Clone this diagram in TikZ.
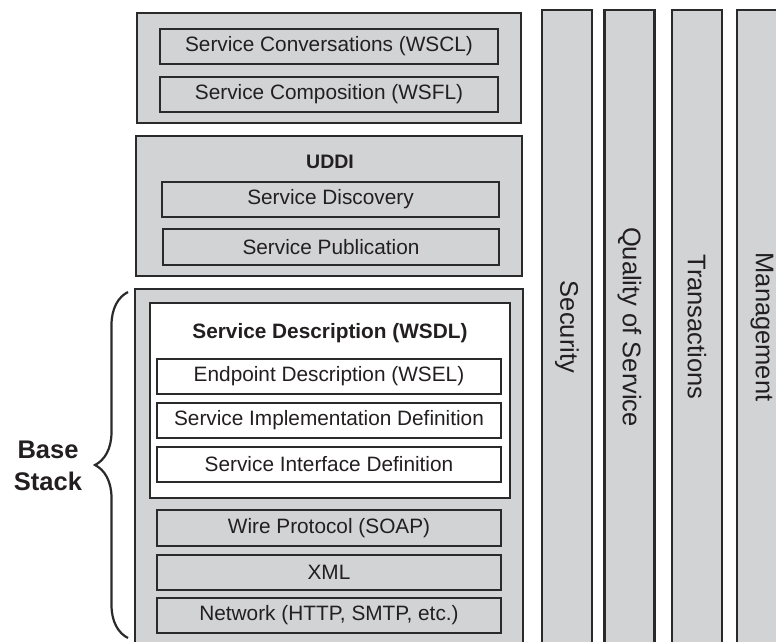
\documentclass[tikz,border=0pt]{standalone}
\usepackage{fontspec}
\setmainfont{Liberation Sans}
\usetikzlibrary{decorations.pathreplacing}
\definecolor{layergray}{HTML}{D1D3D4}
\definecolor{edgegray}{HTML}{2A2A2A}
\definecolor{inkc}{HTML}{231F20}
\begin{document}
\begin{tikzpicture}[x=1pt,y=-1pt,
  every node/.style={text=inkc},
  block/.style={draw=edgegray,fill=layergray,line width=2.4pt,inner sep=0pt},
  layer/.style={block,minimum width=338pt,minimum height=35pt,font=\fontsize{20.8}{24}\selectfont},
  pillar/.style={block,rotate=-90,minimum width=634pt,minimum height=50pt,font=\fontsize{25.5}{30}\selectfont}]
\useasboundingbox (0,0) rectangle (776,641);
\clip (0,0) rectangle (776,641);
% cross-cutting pillars
\node[pillar] (sec) at (567,327) {Security};
\node[pillar] (qos) at (629.5,327) {Quality of Service};
\node[pillar] (trans) at (697,327) {Transactions};
\node[pillar] (mgmt) at (762,327) {Management};
% flow layer
\node[block,minimum width=384pt,minimum height=110pt] (flow) at (329,68) {};
\node[layer] (conv) at (329,46.5) {Service Conversations (WSCL)};
\node[layer] (comp) at (329,94.5) {Service Composition (WSFL)};
% UDDI layer
\node[block,minimum width=386pt,minimum height=140pt] (uddibox) at (329,206) {};
\node[font=\bfseries\fontsize{19.5}{24}\selectfont] (uddi) at (330,162) {UDDI};
\node[layer,minimum width=337pt] (disc) at (330.5,199.5) {Service Discovery};
\node[layer,minimum width=336pt,minimum height=36pt] (publ) at (331,247) {Service Publication};
% base stack
\node[block,minimum width=388pt,minimum height=371pt] (base) at (329,474.5) {};
\node[block,fill=white,minimum width=360pt,minimum height=195pt] (wsdl) at (330,400.5) {};
\node[font=\bfseries\fontsize{20.8}{24}\selectfont] (wsdltitle) at (330,333) {Service Description (WSDL)};
\node[layer,fill=white,minimum width=344pt] (endp) at (329,376.5) {Endpoint Description (WSEL)};
\node[layer,fill=white,minimum width=344pt] (impl) at (329,420.5) {Service Implementation Definition};
\node[layer,fill=white,minimum width=344pt] (intf) at (329,464.5) {Service Interface Definition};
\node[layer,minimum width=344pt,minimum height=36pt] (wire) at (329,528) {Wire Protocol (SOAP)};
\node[layer,minimum width=344pt] (xml) at (329,572.5) {XML};
\node[layer,minimum width=344pt] (net) at (329,615.5) {Network (HTTP, SMTP, etc.)};
% brace
\coordinate (bracelow) at (128,638);
\coordinate (bracehigh) at (128,292);
\draw[edgegray,line width=2.2pt,decorate,decoration={brace,amplitude=33pt}] (bracelow) -- (bracehigh);
\node[font=\bfseries\fontsize{25.5}{32}\selectfont,align=center] (basestack) at (48,466) {Base\\Stack};
\end{tikzpicture}
\end{document}
